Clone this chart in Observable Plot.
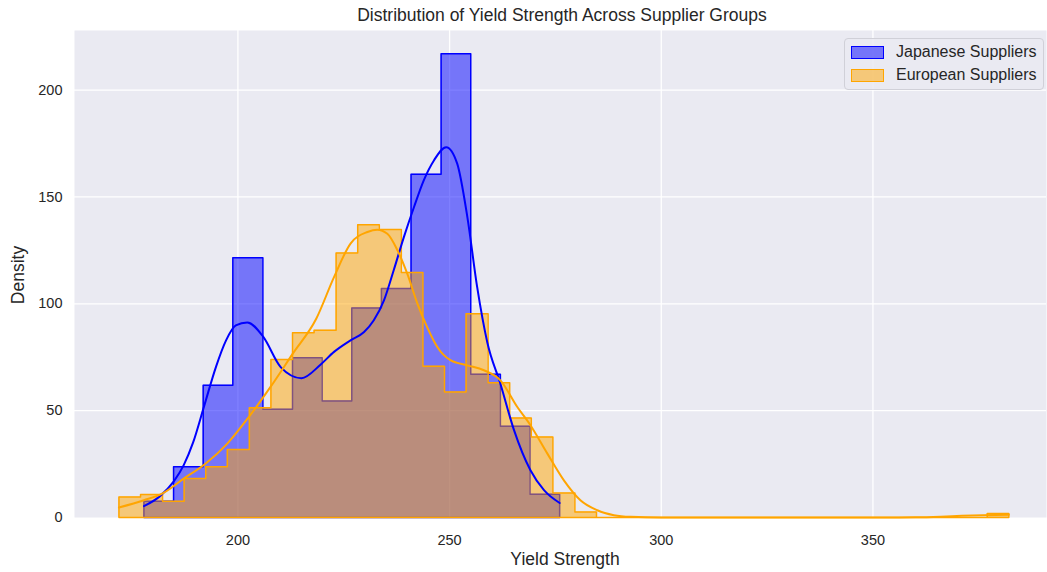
<!DOCTYPE html>
<html>
<head>
<meta charset="utf-8">
<script src="https://cdn.jsdelivr.net/npm/d3@7"></script>
<script src="https://cdn.jsdelivr.net/npm/@observablehq/plot@0.6"></script>
<style>
  html, body { margin: 0; padding: 0; background: #ffffff; }
  #wrap { position: relative; width: 1047px; height: 572px; font-family: "Liberation Sans", Arial, sans-serif; color: #262626; overflow: hidden; }
  #title { position: absolute; left: 74px; width: 976px; top: 4px; text-align: center; font-size: 17.5px; line-height: 22px; }
  #chart { position: absolute; left: 0; top: 30px; }
  #xlabel { position: absolute; left: 365px; width: 400px; top: 548px; text-align: center; font-size: 17.5px; line-height: 22px; }
  #ylabel { position: absolute; left: 18px; top: 275px; transform: translate(-50%, -50%) rotate(-90deg); font-size: 17.5px; line-height: 22px; white-space: nowrap; }
  #legend { position: absolute; left: 844px; top: 38px; width: 198px; height: 50px; background: rgba(234,234,242,0.85); border: 1px solid #d0d0d8; border-radius: 4px; }
  .item { position: absolute; left: 0; height: 22px; font-size: 16px; line-height: 22px; white-space: nowrap; }
  .sw { position: absolute; left: 6px; top: 5px; width: 31px; height: 11px; border-width: 1.5px; border-style: solid; }
  .lt { position: absolute; left: 51px; top: 0; }
</style>
</head>
<body>
<div id="wrap">
  <div id="title"></div>
  <div id="chart"></div>
  <div id="xlabel"></div>
  <div id="ylabel"></div>
  <div id="legend"></div>
</div>
<script>
// ---- Text ----
const titleText = "Distribution of Yield Strength Across Supplier Groups";
const xLabelText = "Yield Strength";
const yLabelText = "Density";
const seriesNames = ["Japanese Suppliers", "European Suppliers"];
const seriesColors = ["#0000ff", "#ffa500"];

// ---- Ticks ----
const xTicks = [200, 250, 300, 350];
const yTicks = [0, 50, 100, 150, 200];

// ---- Japanese suppliers histogram ----
const japaneseBinEdges = [177.8, 184.8, 191.8, 198.8, 205.9, 212.9, 219.9, 226.9, 233.9, 240.9, 248.0, 255.0, 262.0, 269.0, 276.0];
const japaneseDensity = [7.6, 23.7, 61.9, 121.6, 50.7, 74.7, 54.5, 98.0, 107.2, 160.6, 217.0, 67.0, 42.7, 10.9];

// ---- European suppliers histogram ----
const europeanBinEdges = [171.9, 177.0, 182.2, 187.3, 192.4, 197.5, 202.7, 207.8, 212.9, 218.0,
  223.2, 228.3, 233.4, 238.6, 243.7, 248.8, 253.9, 259.1, 264.2, 269.3,
  274.4, 279.6, 284.7, 289.8, 295.0, 300.1, 305.2, 310.3, 315.5, 320.6,
  325.7, 330.8, 336.0, 341.1, 346.2, 351.4, 356.5, 361.6, 366.7, 371.9,
  377.0, 382.1];
const europeanDensity = [9.6, 10.8, 7.6, 18.2, 23.7, 31.8, 51.4, 73.9, 86.5, 87.6,
  123.8, 137.0, 134.8, 114.6, 70.8, 58.7, 95.4, 63.1, 46.6, 37.7,
  11.5, 2.6, 0, 0, 0, 0, 0, 0, 0, 0,
  0, 0, 0, 0, 0, 0, 0, 0, 0, 0,
  1.9];

// ---- KDE curves ----
const japaneseKdeX = [177.8, 181.6, 184.9, 187.2, 189.4, 192.0, 194.8, 197.2, 199.5, 202.2, 206.0, 210.1, 215.0, 219.5, 222.7, 226.6, 229.8, 232.1, 234.5, 236.8, 239.2, 241.6, 243.9, 246.3, 249.2, 251.8, 254.2, 256.5, 258.9, 262.0, 265.2, 269.1, 272.3, 276.0];
const japaneseKdeY = [5.3, 10, 17, 24.5, 35, 52, 70.4, 82.9, 89.9, 91.3, 84.5, 70.4, 65.2, 71.5, 77.5, 82.9, 86.8, 92.3, 101.6, 115.7, 131.2, 145.3, 157.8, 167.1, 173.3, 165.6, 140.6, 108, 82, 62.6, 41, 22.1, 12.8, 6.8];
const europeanKdeX = [171.9, 177.8, 182.1, 187.2, 192.4, 197.5, 202.6, 207.7, 213.0, 218.5, 222.7, 226.6, 230.6, 232.9, 235.3, 237.7, 240.0, 242.4, 244.7, 247.1, 250.2, 254.2, 258.1, 262.0, 266.0, 269.1, 273.1, 277.0, 280.9, 284.9, 288.8, 292.8, 300, 320, 340, 352, 360, 366, 371, 376, 382.1];
const europeanKdeY = [4.7, 8.1, 11.2, 18.2, 25.3, 34.6, 47.1, 61.1, 76.8, 93, 112.5, 128.2, 133.6, 134.7, 132.8, 125.0, 114.1, 100.1, 89.1, 79.8, 73.6, 71.2, 68.9, 64.2, 51.7, 43.2, 29.9, 17.4, 8.1, 3.4, 1.1, 0.3, 0, 0, 0, 0, 0.1, 0.4, 0.8, 1.1, 1.3];

// ---- build step outlines ----
function stepPoints(edges, heights) {
  const pts = [{x: edges[0], y: 0}];
  heights.forEach((h, i) => pts.push({x: edges[i], y: h}));
  pts.push({x: edges[edges.length - 1], y: 0});
  return pts;
}
function closed(pts) { return pts.concat([{x: pts[0].x, y: 0}]); }
const japSteps = stepPoints(japaneseBinEdges, japaneseDensity);
const eurSteps = stepPoints(europeanBinEdges, europeanDensity);
const japKde = japaneseKdeX.map((x, i) => ({x, y: japaneseKdeY[i]}));
const eurKde = europeanKdeX.map((x, i) => ({x, y: europeanKdeY[i]}));

const chart = Plot.plot({
  width: 1047,
  height: 542,
  marginTop: 0,
  marginBottom: 55,
  marginLeft: 74,
  marginRight: 1,
  x: {domain: [161.4, 391.0]},
  y: {domain: [0, 227.9]},
  style: {fontFamily: '"Liberation Sans", Arial, sans-serif', fontSize: "14.5px", color: "#262626", background: "transparent", overflow: "visible"},
  marks: [
    Plot.frame({fill: "#eaeaf2", stroke: null}),
    Plot.gridX(xTicks, {stroke: "#ffffff", strokeOpacity: 1, strokeWidth: 1.3}),
    Plot.gridY(yTicks.filter(d => d > 0), {stroke: "#ffffff", strokeOpacity: 1, strokeWidth: 1.3}),
    Plot.axisX(xTicks, {tickSize: 0, tickPadding: 17, label: null, fontSize: 14.5}),
    Plot.axisY(yTicks, {tickSize: 0, tickPadding: 12, label: null, fontSize: 14.5}),
    Plot.areaY(japSteps, {x: "x", y: "y", curve: "step-after", fill: seriesColors[0], fillOpacity: 0.5}),
    Plot.line(closed(japSteps), {x: "x", y: "y", curve: "step-after", stroke: seriesColors[0], strokeWidth: 1.5}),
    Plot.areaY(eurSteps, {x: "x", y: "y", curve: "step-after", fill: seriesColors[1], fillOpacity: 0.5}),
    Plot.line(closed(eurSteps), {x: "x", y: "y", curve: "step-after", stroke: seriesColors[1], strokeWidth: 1.5}),
    Plot.line(japKde, {x: "x", y: "y", curve: "monotone-x", stroke: seriesColors[0], strokeWidth: 2}),
    Plot.line(eurKde, {x: "x", y: "y", curve: "monotone-x", stroke: seriesColors[1], strokeWidth: 2})
  ]
});
document.getElementById("chart").appendChild(chart);

document.getElementById("title").textContent = titleText;
document.getElementById("xlabel").textContent = xLabelText;
document.getElementById("ylabel").textContent = yLabelText;

const legend = document.getElementById("legend");
seriesNames.forEach((name, i) => {
  const item = document.createElement("div");
  item.className = "item";
  item.style.top = (i === 0 ? 2 : 25) + "px";
  const sw = document.createElement("div");
  sw.className = "sw";
  sw.style.borderColor = seriesColors[i];
  sw.style.background = i === 0 ? "rgba(0,0,255,0.5)" : "rgba(255,165,0,0.5)";
  const lt = document.createElement("div");
  lt.className = "lt";
  lt.textContent = name;
  item.appendChild(sw);
  item.appendChild(lt);
  legend.appendChild(item);
});
</script>
</body>
</html>
